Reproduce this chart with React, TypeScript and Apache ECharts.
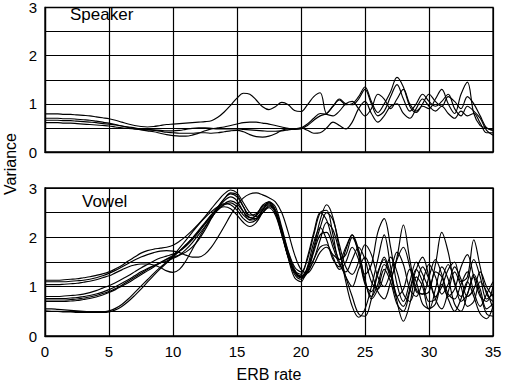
import React, { useEffect, useRef } from "react";
import * as echarts from "echarts";

// x grid (ERB rate), one value every 0.5
const X = [
  0, 0.5, 1, 1.5, 2, 2.5, 3, 3.5, 4, 4.5, 5, 5.5, 6, 6.5, 7, 7.5, 8, 8.5, 9, 9.5,
  10, 10.5, 11, 11.5, 12, 12.5, 13, 13.5, 14, 14.5, 15, 15.5, 16, 16.5, 17, 17.5,
  18, 18.5, 19, 19.5, 20, 20.5, 21, 21.5, 22, 22.5, 23, 23.5, 24, 24.5, 25, 25.5,
  26, 26.5, 27, 27.5, 28, 28.5, 29, 29.5, 30, 30.5, 31, 31.5, 32, 32.5, 33, 33.5,
  34, 34.5, 35,
];

const X_TICKS = ["0", "5", "10", "15", "20", "25", "30", "35"];
const Y_TICKS = ["0", "1", "2", "3"];

// Speaker panel
const S1 = [
  0.79, 0.79, 0.79, 0.78, 0.78, 0.77, 0.76,
  0.75, 0.73, 0.71, 0.69, 0.66, 0.62, 0.58,
  0.55, 0.53, 0.52, 0.53, 0.55, 0.57, 0.58,
  0.59, 0.60, 0.61, 0.62, 0.63, 0.65, 0.72,
  0.83, 0.97, 1.12, 1.22, 1.20, 1.08, 0.94,
  0.88, 0.94, 1.03, 0.98, 0.86, 0.84, 0.98,
  1.15, 1.23, 0.80, 0.95, 1.08, 0.98, 1.0,
  1.15, 1.35, 1.05, 0.82, 1.0, 1.25, 1.55,
  1.35, 0.95, 0.82, 1.0, 1.2, 1.05, 0.95,
  1.15, 1.05, 0.9, 1.15, 1.0, 0.75, 0.5,
  0.45,
];
const S2 = [
  0.70, 0.70, 0.70, 0.69, 0.69, 0.68, 0.67,
  0.66, 0.64, 0.62, 0.60, 0.57, 0.54, 0.51,
  0.48, 0.46, 0.44, 0.42, 0.39, 0.36, 0.34,
  0.33, 0.33, 0.35, 0.39, 0.44, 0.48, 0.50,
  0.52, 0.55, 0.58, 0.61, 0.62, 0.62, 0.60,
  0.58, 0.55, 0.52, 0.49, 0.47, 0.48, 0.55,
  0.66, 0.75, 0.80, 0.95, 1.10, 1.00, 0.98,
  1.10, 1.30, 1.00, 0.75, 0.85, 1.15, 1.40,
  1.10, 0.85, 1.00, 1.20, 1.05, 0.95, 1.05,
  1.20, 0.90, 0.75, 0.95, 0.85, 0.70, 0.45,
  0.35,
];
const S3 = [
  0.66, 0.66, 0.66, 0.65, 0.65, 0.64, 0.63,
  0.62, 0.61, 0.59, 0.58, 0.56, 0.54, 0.52,
  0.50, 0.48, 0.47, 0.46, 0.45, 0.44, 0.44,
  0.45, 0.47, 0.49, 0.50, 0.50, 0.49, 0.48,
  0.48, 0.48, 0.48, 0.47, 0.46, 0.45, 0.44,
  0.43, 0.43, 0.44, 0.46, 0.48, 0.50, 0.45,
  0.39, 0.40, 0.50, 0.62, 0.55, 0.48, 0.62,
  0.90, 1.05, 0.80, 0.62, 0.75, 0.95, 1.00,
  0.80, 0.70, 0.90, 1.10, 0.95, 0.85, 0.95,
  0.80, 0.70, 0.85, 0.75, 0.80, 0.60, 0.40,
  0.40,
];
const S4 = [
  0.61, 0.61, 0.61, 0.60, 0.60, 0.59, 0.58,
  0.57, 0.56, 0.55, 0.54, 0.52, 0.50, 0.49,
  0.48, 0.47, 0.46, 0.45, 0.43, 0.41, 0.40,
  0.39, 0.39, 0.39, 0.40, 0.40, 0.39, 0.40,
  0.42, 0.44, 0.45, 0.42, 0.36, 0.32, 0.31,
  0.33, 0.38, 0.45, 0.48, 0.48, 0.50, 0.58,
  0.70, 0.80, 0.78, 0.75, 0.85, 1.00, 1.05,
  0.90, 0.75, 0.90, 1.20, 1.10, 0.90, 1.10,
  1.30, 1.00, 0.85, 0.95, 0.90, 1.10, 1.30,
  1.00, 0.80, 1.20, 1.45, 0.80, 0.55, 0.50,
  0.45,
];

// Vowel panel
const V1 = [
  1.13, 1.13, 1.13, 1.14, 1.15, 1.16, 1.18,
  1.20, 1.23, 1.26, 1.30, 1.36, 1.43, 1.52,
  1.60, 1.68, 1.73, 1.76, 1.78, 1.80, 1.84,
  1.92, 2.02, 2.14, 2.27, 2.42, 2.58, 2.74,
  2.88, 2.96, 2.90, 2.70, 2.50, 2.42, 2.50,
  2.62, 2.52, 2.15, 1.70, 1.35, 1.20, 1.35,
  1.75, 2.20, 2.50, 2.35, 1.85, 1.40, 1.25,
  1.50, 1.85, 1.65, 1.20, 1.00, 1.30, 1.70,
  1.45, 0.95, 0.80, 1.10, 1.45, 1.20, 0.85,
  1.05, 1.40, 1.15, 0.80, 0.95, 1.30, 1.00,
  0.80,
];
const V2 = [
  0.51, 0.50, 0.50, 0.49, 0.49, 0.48, 0.48,
  0.48, 0.48, 0.49, 0.51, 0.56, 0.64, 0.75,
  0.88, 1.01, 1.14, 1.27, 1.39, 1.50, 1.62,
  1.78, 1.94, 2.10, 2.26, 2.40, 2.52, 2.62,
  2.68, 2.66, 2.55, 2.38, 2.30, 2.35, 2.50,
  2.60, 2.45, 2.05, 1.62, 1.32, 1.25, 1.60,
  2.10, 2.50, 2.35, 1.90, 1.50, 1.20, 1.00,
  1.35, 1.60, 1.30, 0.90, 0.75, 1.10, 1.55,
  1.80, 1.40, 0.90, 0.85, 1.20, 1.55, 1.25,
  0.85, 0.75, 1.05, 1.30, 0.90, 0.60, 0.85,
  1.10,
];
const V3 = [
  1.04, 1.04, 1.04, 1.05, 1.06, 1.07, 1.09,
  1.11, 1.14, 1.18, 1.22, 1.28, 1.34, 1.40,
  1.44, 1.46, 1.46, 1.44, 1.39, 1.32, 1.29,
  1.35, 1.52, 1.75, 1.98, 2.20, 2.40, 2.58,
  2.74, 2.82, 2.74, 2.52, 2.35, 2.38, 2.55,
  2.68, 2.50, 2.05, 1.60, 1.30, 1.20, 1.30,
  1.55, 1.80, 1.85, 1.60, 1.35, 1.50, 1.80,
  1.55, 1.10, 0.80, 1.05, 1.45, 1.25, 0.80,
  0.60, 0.95, 1.35, 1.10, 0.70, 0.75, 1.15,
  1.45, 1.10, 0.70, 0.85, 1.25, 0.95, 0.55,
  0.65,
];
const V4 = [
  0.80, 0.80, 0.80, 0.81, 0.82, 0.83, 0.85,
  0.88, 0.92, 0.97, 1.02, 1.08, 1.15, 1.22,
  1.30, 1.38, 1.45, 1.52, 1.58, 1.62, 1.66,
  1.72, 1.82, 1.95, 2.10, 2.28, 2.45, 2.62,
  2.78, 2.90, 2.86, 2.62, 2.40, 2.38, 2.55,
  2.72, 2.62, 2.20, 1.72, 1.40, 1.30, 1.55,
  2.05, 2.50, 2.55, 2.05, 1.55, 1.65, 2.00,
  1.70, 1.15, 0.75, 0.95, 1.35, 1.10, 0.65,
  0.50, 0.90, 1.35, 1.60, 1.20, 0.75, 0.55,
  0.90, 1.30, 1.00, 0.60, 0.70, 1.10, 0.90,
  0.55,
];
const V5 = [
  0.76, 0.76, 0.76, 0.76, 0.77, 0.78, 0.80,
  0.82, 0.85, 0.89, 0.94, 1.00, 1.07, 1.14,
  1.22, 1.30, 1.37, 1.43, 1.48, 1.52, 1.57,
  1.64, 1.75, 1.89, 2.05, 2.22, 2.40, 2.55,
  2.66, 2.70, 2.62, 2.45, 2.36, 2.45, 2.65,
  2.72, 2.55, 2.10, 1.60, 1.25, 1.15, 1.30,
  1.70, 2.05, 2.10, 1.80, 1.45, 1.30, 1.55,
  1.80, 1.55, 1.10, 0.95, 1.25, 1.60, 1.30,
  0.85, 0.70, 1.05, 1.40, 1.15, 0.80, 1.00,
  1.35, 1.50, 1.10, 1.20, 1.95, 1.40, 0.85,
  0.70,
];
const V6 = [
  0.73, 0.73, 0.73, 0.73, 0.74, 0.75, 0.77,
  0.79, 0.82, 0.86, 0.90, 0.96, 1.03, 1.11,
  1.19, 1.27, 1.35, 1.42, 1.49, 1.56, 1.63,
  1.72, 1.84, 1.98, 2.14, 2.30, 2.46, 2.58,
  2.62, 2.58, 2.45, 2.30, 2.22, 2.30, 2.50,
  2.64, 2.55, 2.15, 1.65, 1.30, 1.18, 1.28,
  1.55, 1.95, 2.30, 2.15, 1.70, 1.20, 0.80,
  0.45, 0.40, 0.75, 1.25, 1.60, 1.25, 0.80,
  0.95, 1.35, 1.10, 0.65, 0.55, 0.95, 1.40,
  1.15, 0.65, 0.50, 0.85, 1.20, 0.85, 0.45,
  0.40,
];
const V7 = [
  0.70, 0.70, 0.70, 0.70, 0.71, 0.72, 0.74,
  0.76, 0.79, 0.83, 0.88, 0.94, 1.01, 1.08,
  1.16, 1.24, 1.32, 1.40, 1.48, 1.55, 1.60,
  1.64, 1.70, 1.80, 1.95, 2.15, 2.38, 2.60,
  2.78, 2.88, 2.82, 2.62, 2.45, 2.48, 2.62,
  2.70, 2.55, 2.10, 1.58, 1.18, 1.10, 1.40,
  1.90, 2.20, 1.95, 1.55, 1.40, 1.75, 2.05,
  1.65, 1.05, 0.90, 1.30, 1.55, 1.20, 1.60,
  2.25, 1.55, 0.95, 0.85, 0.90, 1.30, 1.20,
  0.80, 0.95, 1.40, 1.65, 1.20, 0.80, 0.70,
  1.00,
];
const V8 = [
  0.55, 0.55, 0.54, 0.53, 0.52, 0.51, 0.50,
  0.49, 0.48, 0.48, 0.49, 0.53, 0.60, 0.70,
  0.82, 0.95, 1.09, 1.23, 1.36, 1.48, 1.60,
  1.72, 1.85, 1.98, 2.12, 2.27, 2.42, 2.56,
  2.68, 2.74, 2.68, 2.52, 2.40, 2.44, 2.58,
  2.66, 2.50, 2.08, 1.62, 1.30, 1.22, 1.38,
  1.80, 2.35, 2.66, 2.40, 1.75, 1.10, 0.60,
  0.38, 0.55, 1.00, 1.55, 2.05, 1.40, 0.70,
  0.30, 0.65, 1.20, 1.00, 0.55, 0.65, 1.05,
  0.75, 0.50, 0.75, 1.10, 0.80, 0.45, 0.35,
  0.60,
];
const V9 = [
  1.10, 1.10, 1.10, 1.10, 1.11, 1.12, 1.13,
  1.15, 1.18, 1.22, 1.27, 1.33, 1.40, 1.47,
  1.54, 1.60, 1.65, 1.69, 1.72, 1.73, 1.72,
  1.69, 1.64, 1.60, 1.60, 1.66, 1.80, 2.00,
  2.22, 2.45, 2.65, 2.80, 2.88, 2.90, 2.86,
  2.80, 2.72, 2.50, 2.10, 1.65, 1.35, 1.28,
  1.45, 1.70, 1.80, 1.65, 1.55, 1.80, 2.05,
  1.75, 1.25, 1.45, 2.10, 2.38, 1.80, 1.05,
  0.70, 1.10, 1.50, 1.25, 1.00, 1.45, 2.10,
  1.70, 1.05, 0.80, 1.10, 1.55, 1.20, 0.75,
  0.85,
];

const SPEAKER = [S1, S2, S3, S4];
const VOWEL = [V1, V2, V3, V4, V5, V6, V7, V8, V9];

const FONT = "'Liberation Sans', Arial, Helvetica, sans-serif";

export default function App() {
  const ref = useRef<HTMLDivElement>(null);

  useEffect(() => {
    if (!ref.current) return;
    const chart = echarts.init(ref.current, null, { renderer: "svg" });

    const mkX = (gi: number, showLabels: boolean) => ({
      type: "value",
      gridIndex: gi,
      min: 0,
      max: 35,
      interval: 5,
      axisLine: { show: true, lineStyle: { color: "#000", width: 1.3 } },
      axisTick: { show: false },
      splitLine: { show: true, lineStyle: { color: "#000", width: 1.2 } },
      axisLabel: {
        show: showLabels,
        color: "#000",
        fontSize: 15,
        fontFamily: FONT,
        margin: 8,
        formatter: (v: number) => {
          const s = String(v);
          return X_TICKS.includes(s) ? s : "";
        },
      },
    });
    const mkY = (gi: number) => ({
      type: "value",
      gridIndex: gi,
      min: 0,
      max: 3,
      interval: 0.5,
      axisLine: { show: true, lineStyle: { color: "#000", width: 1.3 } },
      axisTick: { show: false },
      splitLine: { show: true, lineStyle: { color: "#000", width: 1.2 } },
      axisLabel: {
        color: "#000",
        fontSize: 15,
        fontFamily: FONT,
        margin: 8,
        formatter: (v: number) => {
          const s = String(v);
          return Y_TICKS.includes(s) ? s : "";
        },
      },
    });

    const mkSeries = (arr: number[], gi: number) => ({
      type: "line",
      xAxisIndex: gi,
      yAxisIndex: gi,
      data: X.map((x, i) => [x, arr[i]]),
      symbol: "none",
      showSymbol: false,
      smooth: 0.35,
      lineStyle: { color: "#000", width: 1.15 },
      silent: true,
    });

    chart.setOption({
      animation: false,
      backgroundColor: "#fff",
      grid: [
        { left: 45, top: 3, width: 448, height: 149, show: true, borderColor: "#000", borderWidth: 1.3, backgroundColor: "transparent" },
        { left: 45, top: 188, width: 448, height: 148, show: true, borderColor: "#000", borderWidth: 1.3, backgroundColor: "transparent" },
      ],
      xAxis: [mkX(0, false), mkX(1, true)],
      yAxis: [mkY(0), mkY(1)],
      series: [
        ...SPEAKER.map((s) => mkSeries(s, 0)),
        ...VOWEL.map((s) => mkSeries(s, 1)),
      ],
      graphic: [
        {
          type: "text",
          x: 70,
          y: 14,
          style: { text: "Speaker", font: `17px ${FONT}`, fill: "#000", textAlign: "left", textVerticalAlign: "middle" },
        },
        {
          type: "text",
          x: 82,
          y: 201,
          style: { text: "Vowel", font: `17px ${FONT}`, fill: "#000", textAlign: "left", textVerticalAlign: "middle" },
        },
        {
          type: "text",
          x: 269,
          y: 374,
          style: { text: "ERB rate", font: `16px ${FONT}`, fill: "#000", textAlign: "center", textVerticalAlign: "middle" },
        },
        {
          type: "text",
          x: 10,
          y: 164,
          rotation: Math.PI / 2,
          style: { text: "Variance", font: `16px ${FONT}`, fill: "#000", textAlign: "center", textVerticalAlign: "middle" },
        },
      ],
    });

    return () => chart.dispose();
  }, []);

  return (
    <div
      ref={ref}
      style={{ position: "fixed", left: 0, top: 0, width: 507, height: 383, background: "#fff" }}
    />
  );
}
